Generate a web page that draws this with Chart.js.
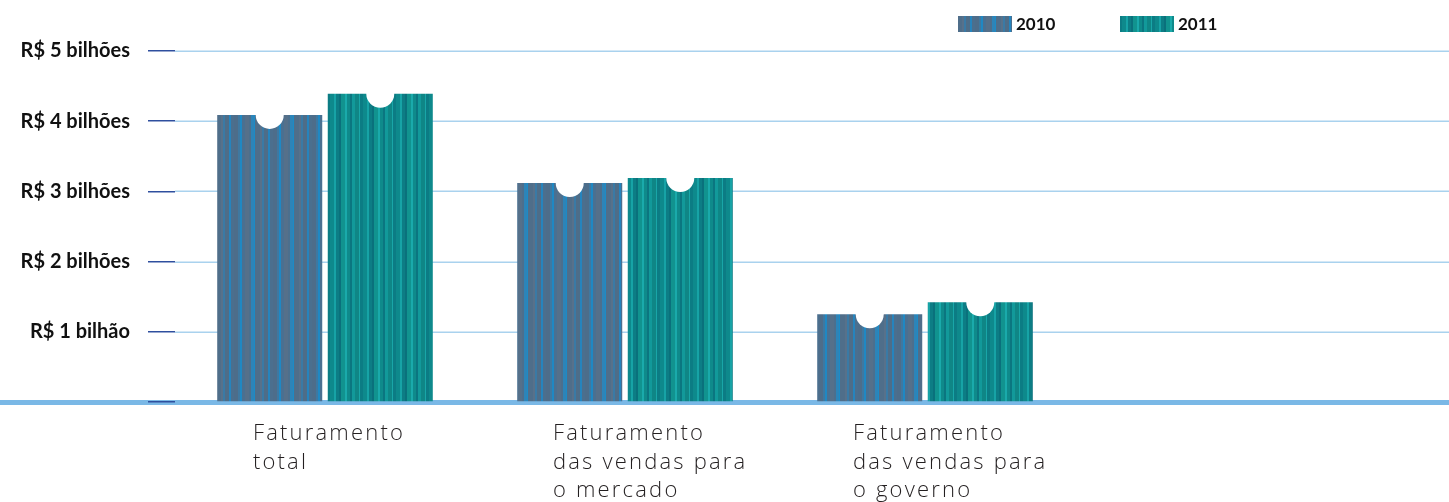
<!DOCTYPE html>
<html>
<head>
<meta charset="utf-8">
<script src="https://cdn.jsdelivr.net/npm/chart.js@4/dist/chart.umd.min.js"></script>
<style>
  html, body { margin: 0; background: #ffffff; }
  #wrap { width: 1449px; height: 502px; position: relative; }
</style>
</head>
<body>
<div id="wrap"><canvas id="chart"></canvas></div>
<script>
// data (values in R$ bilhões)
const categories = [
    ['Faturamento', 'total'],
    ['Faturamento', 'das vendas para', 'o mercado'],
    ['Faturamento', 'das vendas para', 'o governo']
];
const years = ['2010', '2011'];
const values2010 = [4.09, 3.12, 1.25];
const values2011 = [4.39, 3.19, 1.42];
const yTickLabels = ['', 'R$ 1 bilhão', 'R$ 2 bilhões', 'R$ 3 bilhões', 'R$ 4 bilhões', 'R$ 5 bilhões'];

Chart.defaults.animation = false;

// striped fill, like the brushed look of the bars
function stripes(list) {
    const c = document.createElement('canvas');
    c.width = list.reduce((s, p) => s + p[1], 0);
    c.height = 4;
    const g = c.getContext('2d');
    let x = 0;
    list.forEach(([col, w]) => {
        g.fillStyle = col;
        g.fillRect(x, 0, w, 4);
        x += w;
    });
    return g.createPattern(c, 'repeat');
}

const fill2010 = stripes([
    ['#4d6d8a', 4], ['#3f78a0', 2], ['#1f88c3', 2], ['#4a7091', 3], ['#55708a', 4],
    ['#4c6f8d', 2], ['#2d84b8', 3], ['#1c8bc6', 1], ['#4f6e8a', 5], ['#58718a', 2],
    ['#3a7aa5', 2], ['#4e6d88', 4], ['#2684bd', 2], ['#4b6f8e', 3]
]);
const fill2011 = stripes([
    ['#0e898c', 4], ['#17a3a6', 2], ['#0d7d85', 3], ['#0a717c', 2], ['#11938f', 4],
    ['#1aaaab', 2], ['#0f8a8b', 3], ['#0b7680', 2], ['#12999a', 3], ['#0f8686', 4],
    ['#19a6a8', 1], ['#0c7c84', 3]
]);
const fills = [fill2010, fill2011];

// light grid lines to the right edge + thick base line
const gridPlugin = {
    id: 'fullGrid',
    beforeDraw(chart) {
        const {ctx, chartArea} = chart;
        const y = chart.scales.y;
        ctx.save();
        ctx.strokeStyle = '#a9d2ee';
        ctx.lineWidth = 1.5;
        for (let v = 1; v < yTickLabels.length; v++) {
            const py = Math.round(y.getPixelForValue(v)) + 0.25;
            ctx.beginPath();
            ctx.moveTo(chartArea.left, py);
            ctx.lineTo(chart.width, py);
            ctx.stroke();
        }
        const p0 = y.getPixelForValue(0);
        ctx.fillStyle = '#7ab8e6';
        ctx.fillRect(0, p0 - 2, chart.width, 5);
        ctx.restore();
    }
};

// white round notch on top of each bar
const notchPlugin = {
    id: 'notches',
    afterDatasetsDraw(chart) {
        const {ctx} = chart;
        ctx.save();
        ctx.fillStyle = '#ffffff';
        chart.data.datasets.forEach((ds, i) => {
            chart.getDatasetMeta(i).data.forEach(bar => {
                ctx.beginPath();
                ctx.arc(bar.x, bar.y, 14, 0, Math.PI * 2);
                ctx.fill();
            });
        });
        ctx.restore();
    }
};

// category labels under the bars, left aligned under the first line
const labelPlugin = {
    id: 'catLabels',
    afterDraw(chart) {
        const {ctx, chartArea} = chart;
        const x = chart.scales.x;
        ctx.save();
        ctx.font = '300 22px "Open Sans"';
        ctx.letterSpacing = '2.2px';
        ctx.fillStyle = '#231f20';
        ctx.textAlign = 'left';
        ctx.textBaseline = 'alphabetic';
        chart.data.labels.forEach((lines, i) => {
            const cx = x.getPixelForValue(i);
            const w = ctx.measureText(lines[0]).width;
            const left = cx - w / 2 + 4;
            lines.forEach((t, j) => {
                ctx.fillText(t, left, chartArea.bottom + 38 + j * 28.5);
            });
        });
        ctx.restore();
    }
};

// legend top right
const legendPlugin = {
    id: 'topLegend',
    afterDraw(chart) {
        const {ctx} = chart;
        const starts = [958, 1120];
        ctx.save();
        ctx.font = 'bold 17px Lato';
        ctx.textBaseline = 'middle';
        chart.data.datasets.forEach((ds, i) => {
            ctx.fillStyle = ds.backgroundColor;
            ctx.fillRect(starts[i], 16, 54, 16);
            ctx.fillStyle = '#111111';
            ctx.fillText(ds.label, starts[i] + 58, 25);
        });
        ctx.restore();
    }
};

const ctx = document.getElementById('chart');

const config = {
    type: 'bar',
    data: {
        labels: categories,
        datasets: [
            { label: years[0], data: values2010, backgroundColor: fills[0] },
            { label: years[1], data: values2011, backgroundColor: fills[1] }
        ]
    },
    options: {
        responsive: true,
        maintainAspectRatio: false,
        layout: { padding: { top: 51, right: 374, bottom: 100, left: 0 } },
        datasets: {
            bar: { categoryPercentage: 0.737, barPercentage: 0.95 }
        },
        plugins: {
            legend: { display: false },
            tooltip: { enabled: false }
        },
        scales: {
            x: {
                ticks: { display: false },
                grid: { display: false },
                border: { display: false },
                afterFit: s => { s.height = 0; }
            },
            y: {
                min: 0,
                max: 5,
                ticks: {
                    stepSize: 1,
                    padding: 18,
                    color: '#111111',
                    font: { family: 'Lato', weight: 'bold', size: 20 },
                    callback: v => yTickLabels[v]
                },
                grid: {
                    drawOnChartArea: false,
                    tickLength: 27,
                    tickColor: '#2f4f9e',
                    lineWidth: 1.5
                },
                border: { display: false },
                afterFit: s => { s.width = 175; }
            }
        }
    },
    plugins: [gridPlugin, notchPlugin, labelPlugin, legendPlugin]
};

const myChart = new Chart(ctx, config);
</script>
</body>
</html>
